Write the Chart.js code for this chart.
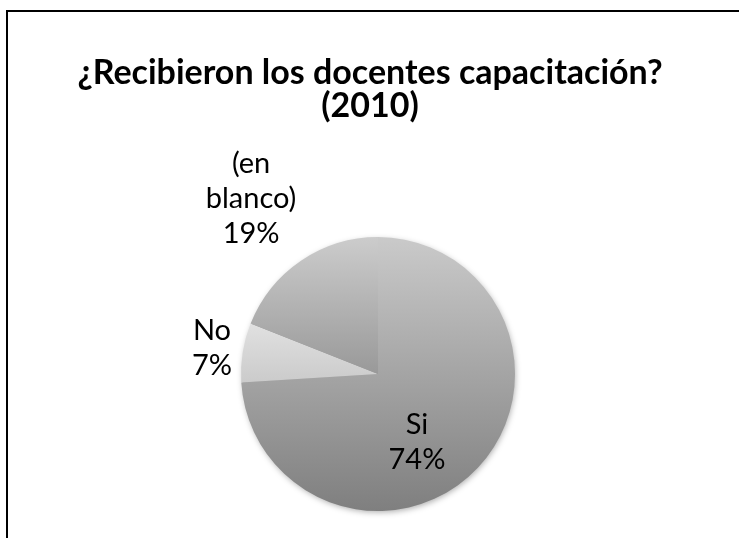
<!DOCTYPE html>
<html>
<head>
<meta charset="utf-8">
<script src="https://cdn.jsdelivr.net/npm/chart.js@4"></script>
<style>
  html, body { margin: 0; padding: 0; background: #fff; overflow: hidden; }
  #wrap { position: relative; width: 739px; height: 538px; overflow: hidden; }
  #frame { position: absolute; left: 6px; top: 10px; width: 1200px; height: 900px; border-left: 2px solid #000; border-top: 2px solid #000; }
  canvas { position: absolute; left: 0; top: 0; }
</style>
</head>
<body>
<div id="wrap">
  <div id="frame"></div>
  <canvas id="pie" width="739" height="538"></canvas>
</div>
<script>
// data
const titleLines = ['¿Recibieron los docentes capacitación?', '(2010)']
const categories = ['Si', 'No', '(en blanco)']
const shares = [74, 7, 19]

// grey gradient per slice, span is in pie radii from the centre (top -> bottom)
const sliceShades = [
  { from: '#cacaca', to: '#7f7f7f', span: [-1, 1] },
  { from: '#e2e2e2', to: '#c9c9c9', span: [-0.4, 0.1] },
  { from: '#cccccc', to: '#999999', span: [-1, 0] }
]

function shade (ctx) {
  const chart = ctx.chart
  const area = chart.chartArea
  const s = sliceShades[ctx.dataIndex]
  if (!area) return s.to
  const cy = (area.top + area.bottom) / 2
  const r = Math.min(area.right - area.left, area.bottom - area.top) / 2
  const g = chart.ctx.createLinearGradient(0, cy + s.span[0] * r, 0, cy + s.span[1] * r)
  g.addColorStop(0, s.from)
  g.addColorStop(1, s.to)
  return g
}

// title, shadow and data labels
const pieText = {
  id: 'pieText',
  beforeDatasetsDraw (chart) {
    const arc = chart.getDatasetMeta(0).data[0]
    const c = chart.ctx
    c.save()
    c.shadowColor = 'rgba(0,0,0,0.35)'
    c.shadowBlur = 6
    c.shadowOffsetX = 1
    c.shadowOffsetY = 2
    c.fillStyle = '#999'
    c.beginPath()
    c.arc(arc.x, arc.y, arc.outerRadius - 1, 0, Math.PI * 2)
    c.fill()
    c.restore()
  },
  afterDatasetsDraw (chart, args, opts) {
    const c = chart.ctx
    const meta = chart.getDatasetMeta(0)
    const total = shares.reduce((a, b) => a + b, 0)
    c.save()
    c.fillStyle = '#000'
    c.textAlign = 'center'
    c.textBaseline = 'middle'
    c.font = opts.titleFont
    titleLines.forEach((t, i) => c.fillText(t, opts.titleX, opts.titleY + i * opts.titleLine))
    c.font = opts.labelFont
    meta.data.forEach((arc, i) => {
      const mid = (arc.startAngle + arc.endAngle) / 2 + opts.turn[i] * Math.PI / 180
      const d = arc.outerRadius * opts.dist[i]
      const x = arc.x + Math.cos(mid) * d
      const y = arc.y + Math.sin(mid) * d
      const lines = categories[i].split(' ').concat(Math.round(shares[i] / total * 100) + '%')
      lines.forEach((l, k) => c.fillText(l, x, y + (k - (lines.length - 1) / 2) * opts.labelLine))
    })
    c.restore()
  }
}

new Chart(document.getElementById('pie'), {
  type: 'pie',
  data: {
    labels: categories,
    datasets: [{
      data: shares,
      backgroundColor: shade,
      borderWidth: 0
    }]
  },
  options: {
    responsive: false,
    animation: false,
    layout: { padding: { left: 241, right: 224, top: 237, bottom: 27 } },
    plugins: {
      legend: { display: false },
      tooltip: { enabled: false },
      pieText: {
        titleFont: 'bold 34px Lato',
        titleX: 370,
        titleY: 73,
        titleLine: 33,
        labelFont: '29px Lato',
        labelLine: 35,
        dist: [0.572, 1.227, 1.58],
        turn: [17, 0, -1.7]
      }
    }
  },
  plugins: [pieText]
})
</script>
</body>
</html>
